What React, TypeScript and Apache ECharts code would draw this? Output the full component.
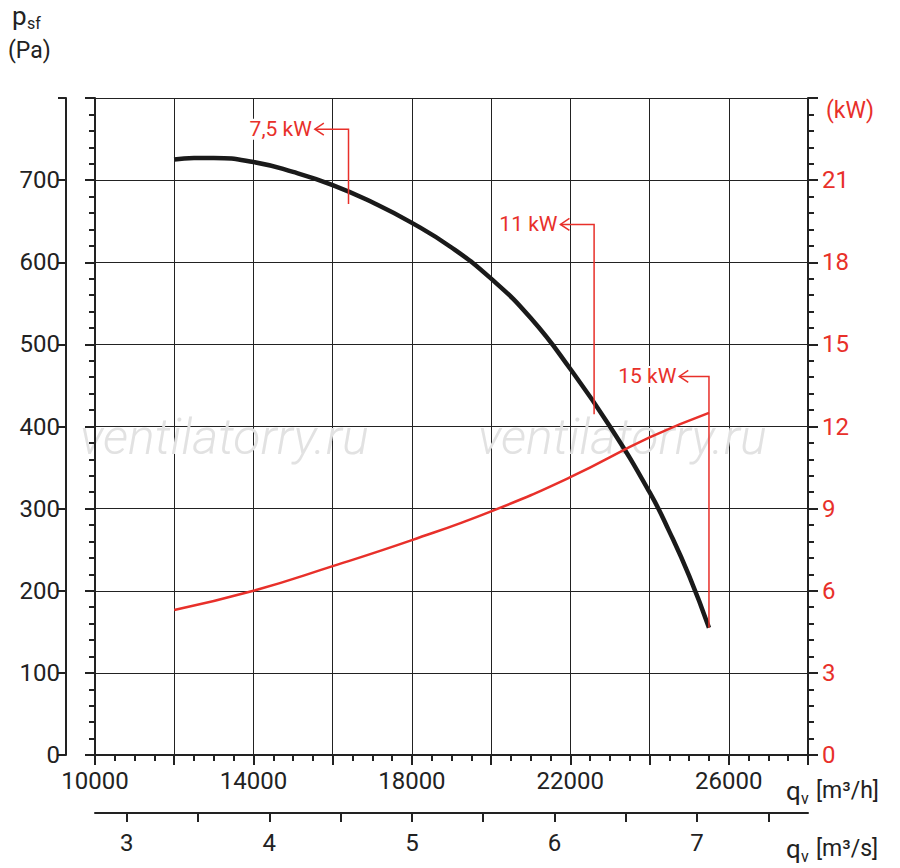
import { useEffect, useRef } from "react";
import * as echarts from "echarts";

const flowM3h = [12000, 12500, 13000, 14000, 15000, 16000, 17000, 18000, 19000, 20000, 21000, 22000, 23000, 24000, 24500, 25000, 25500];
const pressurePa = [725, 727, 727, 722, 710, 694, 673, 648, 618, 580, 532, 470, 400, 320, 272, 218, 155];
const powerFlow = [12000, 14000, 16000, 18000, 20000, 22000, 24000, 25500];
const powerKW = [5.3, 6.0, 6.9, 7.85, 8.9, 10.15, 11.6, 12.5];
// motor markers: label, vertical x, top y, bottom y, arrow tip x (data units)
const motorLabels = ["7,5 kW", "11 kW", "15 kW"];
const motorX = [16400, 22600, 25500];
const motorTop = [762, 646, 461];
const motorBottom = [671, 415, 155];
const motorTip = [15550, 21750, 24750];

const RED = "#e8302a";
const FONT = "Roboto";

export default function App() {
  const ref = useRef<HTMLDivElement>(null);
  useEffect(() => {
    if (!ref.current) return;
    const chart = echarts.init(ref.current, null, { renderer: "svg" });
    const line = { color: "#222", width: 2 };
    chart.setOption({
      animation: false,
      grid: { left: 95, right: 92, top: 98, bottom: 113 },
      xAxis: [
        {
          type: "value", min: 10000, max: 28000, interval: 2000, position: "bottom",
          axisLine: { show: true, onZero: false, lineStyle: line },
          axisTick: { length: 10, lineStyle: line },
          minorTick: { show: true, splitNumber: 4, length: 6, lineStyle: line },
          splitLine: { show: true, lineStyle: { color: "#222", width: 1 } },
          axisLabel: { color: "#222", fontSize: 24, fontFamily: FONT, margin: 14,
            formatter: (v: number) => ((v - 10000) % 4000 === 0 && v < 28000 ? String(v) : "") },
        },
        {
          type: "value", min: 10000 / 3600, max: 28000 / 3600, position: "bottom", offset: 58,
          axisLine: { show: true, onZero: false, lineStyle: line },
          axisTick: { show: true, length: 9, lineStyle: line, customValues: [3, 3.5, 4, 4.5, 5, 5.5, 6, 6.5, 7, 7.5] },
          axisLabel: { color: "#222", fontSize: 24, fontFamily: FONT, margin: 18, customValues: [3, 4, 5, 6, 7] },
          splitLine: { show: false },
        },
      ],
      yAxis: [
        {
          type: "value", min: 0, max: 800, interval: 100, position: "left",
          axisLine: { show: true, onZero: false, lineStyle: line },
          axisTick: { show: true, length: 10, lineStyle: line },
          minorTick: { show: true, splitNumber: 5, length: 6, lineStyle: line },
          splitLine: { show: true, lineStyle: { color: "#222", width: 1 } },
          axisLabel: { show: false },
        },
        {
          type: "value", min: 0, max: 800, interval: 100, position: "left", offset: 29,
          axisLine: { show: true, onZero: false, lineStyle: line },
          axisTick: { show: true, length: 8, lineStyle: line },
          splitLine: { show: false },
          axisLabel: { color: "#222", fontSize: 24, fontFamily: FONT, margin: 6,
            formatter: (v: number) => (v < 800 ? String(v) : "") },
        },
        {
          type: "value", min: 0, max: 24, interval: 3, position: "right",
          axisLine: { show: true, onZero: false, lineStyle: line },
          axisTick: { show: true, length: 10, lineStyle: line },
          minorTick: { show: true, splitNumber: 5, length: 6, lineStyle: line },
          splitLine: { show: false },
          axisLabel: { color: RED, fontSize: 24, fontFamily: FONT, margin: 14,
            formatter: (v: number) => (v < 24 ? String(v) : "") },
        },
      ],
      series: [
        { type: "line", xAxisIndex: 0, yAxisIndex: 0, smooth: 0.5, symbol: "none",
          lineStyle: { color: "#1a1a1a", width: 4.5 }, data: flowM3h.map((x, i) => [x, pressurePa[i]]) },
        { type: "line", xAxisIndex: 0, yAxisIndex: 2, smooth: 0.5, symbol: "none",
          lineStyle: { color: RED, width: 2.5 }, data: powerFlow.map((x, i) => [x, powerKW[i]]) },
      ],
    });

    const px = (x: number, y: number) => chart.convertToPixel({ xAxisIndex: 0, yAxisIndex: 0 }, [x, y]) as number[];
    const graphics: any[] = [];
    motorLabels.forEach((label, i) => {
      const top = px(motorX[i], motorTop[i]);
      const bot = px(motorX[i], motorBottom[i]);
      const tip = px(motorTip[i], motorTop[i]);
      graphics.push(
        { type: "polyline", shape: { points: [[bot[0], bot[1]], [top[0], top[1]], [tip[0], tip[1]]] },
          style: { stroke: RED, lineWidth: 1.5, fill: "none" }, z: 10 },
        { type: "polyline", shape: { points: [[tip[0] + 9, tip[1] - 6], [tip[0], tip[1]], [tip[0] + 9, tip[1] + 6]] },
          style: { stroke: RED, lineWidth: 1.5, fill: "none" }, z: 10 },
        { type: "text", x: tip[0] - 3, y: tip[1], z: 11,
          style: { text: label, fill: RED, font: `21px ${FONT}`, align: "right", verticalAlign: "middle",
            backgroundColor: "#fff" } },
      );
    });
    ["ventilatorry.ru", "ventilatorry.ru"].forEach((t, i) => {
      graphics.push({ type: "text", x: 80 + i * 398, y: 437, z: 0,
        style: { text: t, fill: "#e2e2e2", font: `italic 300 50px ${FONT}`, verticalAlign: "middle" } });
    });
    graphics.push(
      { type: "text", x: 12, y: 16, style: { text: "p", fill: "#222", font: `26px ${FONT}`, verticalAlign: "middle" } },
      { type: "text", x: 27, y: 23, style: { text: "sf", fill: "#222", font: `16px ${FONT}`, verticalAlign: "middle" } },
      { type: "text", x: 8, y: 50, style: { text: "(Pa)", fill: "#222", font: `23px ${FONT}`, verticalAlign: "middle" } },
      { type: "text", x: 826, y: 110, style: { text: "(kW)", fill: RED, font: `23px ${FONT}`, verticalAlign: "middle" } },
      { type: "text", x: 786, y: 791, style: { text: "q", fill: "#222", font: `26px ${FONT}`, verticalAlign: "middle" } },
      { type: "text", x: 801, y: 798, style: { text: "v", fill: "#222", font: `16px ${FONT}`, verticalAlign: "middle" } },
      { type: "text", x: 816, y: 790, style: { text: "[m³/h]", fill: "#222", font: `23px ${FONT}`, verticalAlign: "middle" } },
      { type: "text", x: 786, y: 849, style: { text: "q", fill: "#222", font: `26px ${FONT}`, verticalAlign: "middle" } },
      { type: "text", x: 801, y: 856, style: { text: "v", fill: "#222", font: `16px ${FONT}`, verticalAlign: "middle" } },
      { type: "text", x: 816, y: 848, style: { text: "[m³/s]", fill: "#222", font: `23px ${FONT}`, verticalAlign: "middle" } },
    );
    chart.setOption({ graphic: graphics });
    return () => chart.dispose();
  }, []);
  return <div ref={ref} style={{ position: "fixed", left: 0, top: 0, width: 900, height: 868, background: "#fff" }} />;
}
